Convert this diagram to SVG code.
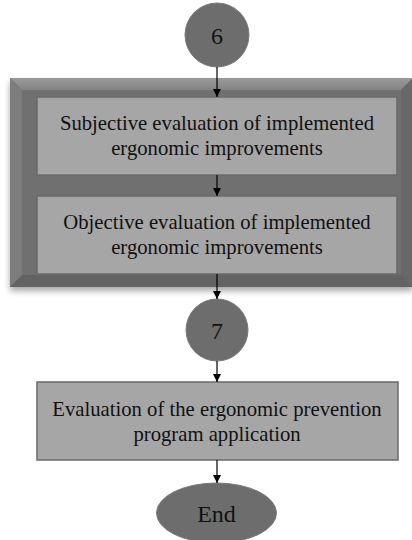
<svg xmlns="http://www.w3.org/2000/svg" width="412" height="540" viewBox="0 0 412 540">
  <style>
    .box { fill: #a6a6a6; stroke: #6a6a6a; stroke-width: 1.5; }
    .conn { fill: #6d6d6d; stroke: #7a7a7a; stroke-width: 1; }
    .lbl { font-family: "Liberation Serif", "Times New Roman", serif; font-size: 20.7px; fill: #111; text-anchor: middle; }
    .num { font-family: "Liberation Serif", "Times New Roman", serif; font-size: 24px; fill: #111; text-anchor: middle; }
    .edge { stroke: #000; stroke-width: 1.2; fill: none; marker-end: url(#arrow); }
  </style>
  <defs>
    <marker id="arrow" viewBox="0 0 10 10" refX="10" refY="5" markerWidth="8" markerHeight="8" markerUnits="userSpaceOnUse" orient="auto">
      <path d="M0,0 L10,5 L0,10 z" fill="#000"/>
    </marker>
    <linearGradient id="topBevel" x1="0" y1="0" x2="0" y2="1">
      <stop offset="0" stop-color="#9a9a9a"/>
      <stop offset="1" stop-color="#838383"/>
    </linearGradient>
    <filter id="shadow" x="-5%" y="-5%" width="110%" height="115%">
      <feGaussianBlur in="SourceAlpha" stdDeviation="3"/>
      <feOffset dy="4" result="b"/>
      <feComponentTransfer><feFuncA type="linear" slope="0.35"/></feComponentTransfer>
      <feMerge><feMergeNode/><feMergeNode in="SourceGraphic"/></feMerge>
    </filter>
  </defs>

  <!-- bevelled frame grouping the two evaluation steps -->
  <g id="frame" filter="url(#shadow)">
    <rect x="10" y="78" width="403" height="209" fill="#707070"/>
    <polygon points="10,78 413,78 401,90 22,90" fill="url(#topBevel)"/>
    <polygon points="10,78 22,90 22,275 10,287" fill="#7d7d7d"/>
    <polygon points="413,78 413,287 401,275 401,90" fill="#676767"/>
    <polygon points="10,287 22,275 401,275 413,287" fill="#636363"/>
    <rect x="22" y="90" width="379" height="185" fill="#707070"/>
  </g>

  <g id="node6">
    <circle class="conn" cx="217" cy="35" r="32"/>
    <text class="num" x="217" y="44">6</text>
  </g>

  <g id="subjective">
    <rect class="box" x="37" y="97" width="360" height="78"/>
    <text class="lbl" x="217" y="130">Subjective evaluation of implemented</text>
    <text class="lbl" x="217" y="155">ergonomic improvements</text>
  </g>

  <g id="objective">
    <rect class="box" x="37" y="196" width="360" height="78"/>
    <text class="lbl" x="217" y="229">Objective evaluation of implemented</text>
    <text class="lbl" x="217" y="254">ergonomic improvements</text>
  </g>

  <g id="node7">
    <circle class="conn" cx="217" cy="330" r="31"/>
    <text class="num" x="217" y="339">7</text>
  </g>

  <g id="program">
    <rect class="box" x="37" y="382" width="361" height="78"/>
    <text class="lbl" x="217" y="416">Evaluation of the ergonomic prevention</text>
    <text class="lbl" x="217" y="441">program application</text>
  </g>

  <g id="end">
    <ellipse class="conn" cx="216.5" cy="513" rx="60" ry="30"/>
    <text class="num" x="216.5" y="522">End</text>
  </g>

  <g id="connectors">
    <line class="edge" x1="217" y1="67" x2="217" y2="97"/>
    <line class="edge" x1="217" y1="175" x2="217" y2="196"/>
    <line class="edge" x1="217" y1="274" x2="217" y2="299"/>
    <line class="edge" x1="217" y1="361" x2="217" y2="382"/>
    <line class="edge" x1="217" y1="460" x2="217" y2="483"/>
  </g>
</svg>
